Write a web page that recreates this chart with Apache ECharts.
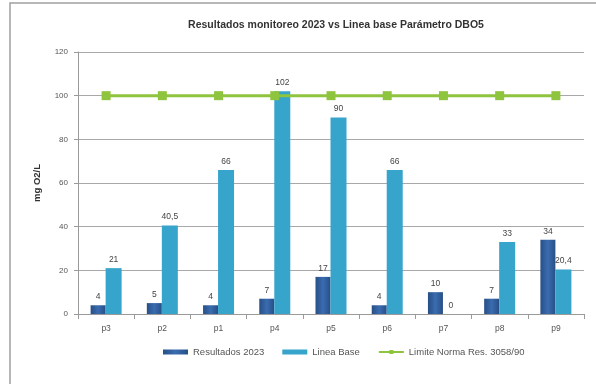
<!DOCTYPE html>
<html>
<head>
<meta charset="utf-8">
<script src="https://cdn.jsdelivr.net/npm/echarts@6/dist/echarts.min.js"></script>
<style>
  html, body { margin: 0; padding: 0; background: #ffffff; }
  #chart { width: 596px; height: 384px; }
</style>
</head>
<body>
<div id="chart"></div>
<script>
// Monitoring points
var categories = ['p3', 'p2', 'p1', 'p4', 'p5', 'p6', 'p7', 'p8', 'p9'];
// DBO5 measured in 2023 (mg O2/L)
var resultados2023 = [4, 5, 4, 7, 17, 4, 10, 7, 34];
// Baseline values (mg O2/L)
var lineaBase = [21, 40.5, 66, 102, 90, 66, 0, 33, 20.4];
// Regulatory limit
var limite = [100, 100, 100, 100, 100, 100, 100, 100, 100];
var yTicks = [0, 20, 40, 60, 80, 100, 120];

var FONT = '"Liberation Sans", "DejaVu Sans", sans-serif';

function fmt(v) {
  return String(v).replace('.', ',');
}

var chart = echarts.init(document.getElementById('chart'));
chart.setOption({
  animation: false,
  backgroundColor: '#ffffff',
  textStyle: { fontFamily: FONT },
  graphic: [{
    type: 'rect',
    shape: { x: 10, y: 3, width: 600, height: 400 },
    style: { fill: 'none', stroke: '#a0a0a0', lineWidth: 1.5 },
    silent: true
  }],
  title: {
    text: 'Resultados monitoreo 2023 vs Linea base Parámetro DBO5',
    left: 331,
    textAlign: 'center',
    top: 15,
    textStyle: { fontSize: 10.5, fontWeight: 'bold', color: '#333333', fontFamily: FONT }
  },
  legend: {
    bottom: 22,
    left: 158,
    itemGap: 18,
    itemWidth: 25,
    itemHeight: 5,
    textStyle: { fontSize: 9.5, color: '#555555', fontFamily: FONT },
    data: [
      { name: 'Resultados 2023', icon: 'rect' },
      { name: 'Linea Base', icon: 'rect' },
      { name: 'Limite Norma Res. 3058/90' }
    ]
  },
  grid: { left: 78, right: 12, top: 52, bottom: 70 },
  xAxis: {
    type: 'category',
    data: categories,
    axisLine: { lineStyle: { color: '#9a9a9a', width: 1 } },
    axisTick: { show: true, alignWithLabel: false, lineStyle: { color: '#9a9a9a' } },
    axisLabel: { fontSize: 8.5, color: '#555555', margin: 10, fontFamily: FONT }
  },
  yAxis: {
    type: 'value',
    min: yTicks[0],
    max: yTicks[yTicks.length - 1],
    interval: 20,
    name: 'mg O2/L',
    nameLocation: 'middle',
    nameGap: 36,
    nameRotate: 90,
    nameTextStyle: { fontSize: 9.5, fontWeight: 'bold', color: '#333333', fontFamily: FONT },
    axisLine: { show: true, lineStyle: { color: '#9a9a9a' } },
    axisTick: { show: true, length: 4, lineStyle: { color: '#9a9a9a' } },
    axisLabel: { fontSize: 8, color: '#555555', margin: 10, fontFamily: FONT },
    splitLine: { lineStyle: { color: '#a8a8a8', width: 1 } }
  },
  series: [
    {
      name: 'Resultados 2023',
      type: 'bar',
      data: resultados2023,
      barWidth: 15,
      barGap: '0%',
      itemStyle: {
        color: new echarts.graphic.LinearGradient(0, 0, 1, 0, [
          { offset: 0, color: '#274f86' },
          { offset: 0.5, color: '#3a6cb0' },
          { offset: 1, color: '#274f86' }
        ])
      },
      label: {
        show: true, position: 'top', distance: 4,
        fontSize: 8.5, color: '#444444', fontFamily: FONT,
        formatter: function (p) { return fmt(p.value); }
      }
    },
    {
      name: 'Linea Base',
      type: 'bar',
      data: lineaBase,
      barWidth: 16,
      itemStyle: { color: '#37a4cc' },
      label: {
        show: true, position: 'top', distance: 4,
        fontSize: 8.5, color: '#444444', fontFamily: FONT,
        formatter: function (p) { return fmt(p.value); }
      }
    },
    {
      name: 'Limite Norma Res. 3058/90',
      type: 'line',
      data: limite,
      symbol: 'rect',
      symbolSize: 9,
      lineStyle: { color: '#8fc43f', width: 3 },
      itemStyle: { color: '#8fc43f' },
      z: 5
    }
  ]
});
</script>
</body>
</html>
